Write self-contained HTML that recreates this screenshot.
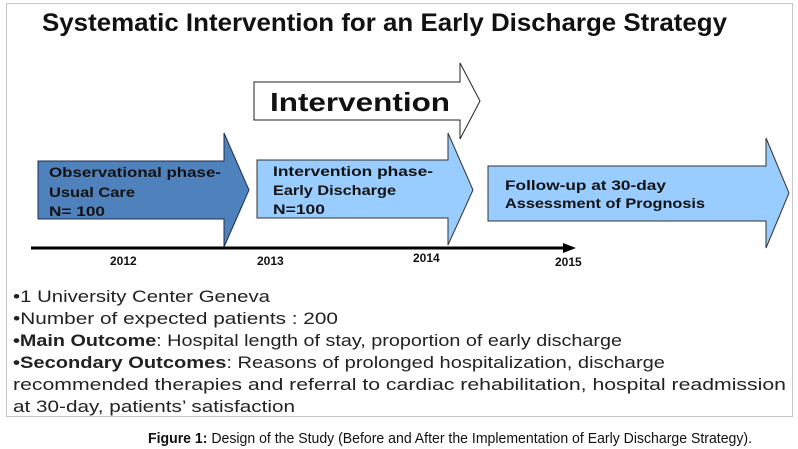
<!DOCTYPE html>
<html><head><style>html,body{margin:0;padding:0;background:#fff}svg{display:block}</style></head>
<body>
<svg width="798" height="449" viewBox="0 0 798 449" xmlns="http://www.w3.org/2000/svg" font-family="Liberation Sans, sans-serif">
<rect x="6.5" y="3.5" width="786" height="413" fill="#fff" stroke="#c8c8c8" stroke-width="1"/>
<text x="42" y="31" font-size="25" font-weight="bold" fill="#111" textLength="685" lengthAdjust="spacingAndGlyphs">Systematic Intervention for an Early Discharge Strategy</text>
<polygon points="254,82 460,82 460,63 480,101 460,139 460,120 254,120" fill="#fff" stroke="#222" stroke-width="1"/>
<text x="270" y="111" font-size="26" font-weight="bold" fill="#111" textLength="180" lengthAdjust="spacingAndGlyphs">Intervention</text>
<polygon points="38,161 224,161 224,133 249,190 224,247 224,219 38,219" fill="#4f81bd" stroke="#1f3050" stroke-width="1"/>
<g font-size="14" font-weight="bold" fill="#111">
<text x="49" y="177" textLength="172" lengthAdjust="spacingAndGlyphs">Observational phase-</text>
<text x="49" y="197" textLength="86" lengthAdjust="spacingAndGlyphs">Usual Care</text>
<text x="49" y="216" textLength="56" lengthAdjust="spacingAndGlyphs">N= 100</text>
</g>
<polygon points="257,160 448,160 448,133 473,190 448,245 448,218 257,218" fill="#99ccff" stroke="#333" stroke-width="1"/>
<g font-size="14" font-weight="bold" fill="#111">
<text x="273" y="176" textLength="160" lengthAdjust="spacingAndGlyphs">Intervention phase-</text>
<text x="273" y="195" textLength="123" lengthAdjust="spacingAndGlyphs">Early Discharge</text>
<text x="273" y="214" textLength="52" lengthAdjust="spacingAndGlyphs">N=100</text>
</g>
<polygon points="488,166 766,166 766,138 789,193 766,248 766,221 488,221" fill="#99ccff" stroke="#333" stroke-width="1"/>
<g font-size="14" font-weight="bold" fill="#111">
<text x="505" y="190" textLength="161" lengthAdjust="spacingAndGlyphs">Follow-up at 30-day</text>
<text x="505" y="208" textLength="200" lengthAdjust="spacingAndGlyphs">Assessment of Prognosis</text>
</g>
<line x1="31" y1="248" x2="566" y2="248" stroke="#000" stroke-width="3"/>
<polygon points="563,243 576,248 563,253" fill="#000"/>
<g font-size="12" font-weight="bold" fill="#111">
<text x="110" y="265">2012</text>
<text x="257" y="265">2013</text>
<text x="413" y="262">2014</text>
<text x="555" y="266">2015</text>
</g>
<g font-size="17" fill="#222">
<text x="13" y="302" textLength="257" lengthAdjust="spacingAndGlyphs">•1 University Center Geneva</text>
<text x="13" y="324" textLength="325" lengthAdjust="spacingAndGlyphs">•Number of expected patients : 200</text>
<text x="13" y="346" textLength="609" lengthAdjust="spacingAndGlyphs"><tspan font-weight="bold">•Main Outcome</tspan>: Hospital length of stay, proportion of early discharge</text>
<text x="13" y="368" textLength="652" lengthAdjust="spacingAndGlyphs"><tspan font-weight="bold">•Secondary Outcomes</tspan>: Reasons of prolonged hospitalization, discharge</text>
<text x="13" y="390" textLength="773" lengthAdjust="spacingAndGlyphs">recommended therapies and referral to cardiac rehabilitation, hospital readmission</text>
<text x="13" y="412" textLength="282" lengthAdjust="spacingAndGlyphs">at 30-day, patients’ satisfaction</text>
</g>
<text x="148" y="443" font-size="15" fill="#111" textLength="604" lengthAdjust="spacingAndGlyphs"><tspan font-weight="bold">Figure 1:</tspan> Design of the Study (Before and After the Implementation of Early Discharge Strategy).</text>
</svg>
</body></html>
